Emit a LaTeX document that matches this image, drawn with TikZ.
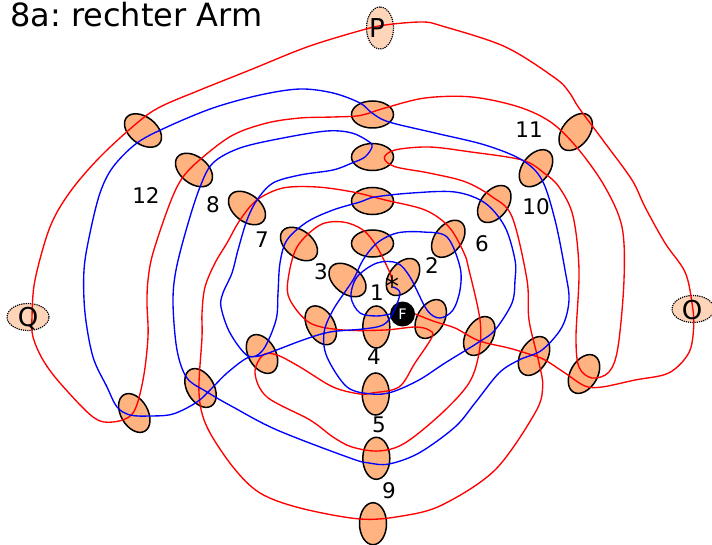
\documentclass[tikz,border=0pt]{standalone}
\usepackage{fontspec}
\setmainfont{DejaVu Sans}
\usetikzlibrary{shapes.geometric}
\definecolor{nervfill}{HTML}{FFB380}
\definecolor{polfill}{HTML}{FFD5BA}
\tikzset{
  nerv/.style={ellipse,draw=black,line width=1.5pt,fill=nervfill,minimum width=42pt,minimum height=27pt,inner sep=0pt},
  pol/.style={ellipse,draw=black,densely dotted,line width=1.2pt,fill=polfill,minimum width=42pt,minimum height=27pt,inner sep=0pt},
  zahl/.style={inner sep=0pt,font=\fontsize{21.5}{24}\selectfont},
  polname/.style={inner sep=0pt,font=\fontsize{26}{30}\selectfont},
  bahn/.style={line width=1.35pt,smooth,tension=0.55}
}
\begin{document}
\frenchspacing
\begin{tikzpicture}[x=1pt,y=-1pt]
\useasboundingbox (0,0) rectangle (712,545);
\node [anchor=base west,inner sep=0pt,font=\fontsize{32}{36}\selectfont] (titel) at (10,27) {8a: rechter Arm};
\node [pol,rotate=90] (polP) at (380,28) {};
\node [pol] (polQ) at (28,317) {};
\node [pol] (polO) at (693,309) {};
\node [nerv] (t1) at (372.5,114.5) {};
\node [nerv] (t2) at (372.5,157) {};
\node [nerv] (t3) at (372.5,201) {};
\node [nerv] (t4) at (372.5,243.5) {};
\node [nerv,rotate=-38] (l1) at (143,130.5) {};
\node [nerv,rotate=-38] (l2) at (194,170) {};
\node [nerv,rotate=-38] (l3) at (247,208) {};
\node [nerv,rotate=-38] (l4) at (299,244) {};
\node [nerv,rotate=-38] (l5) at (347.5,280) {};
\node [nerv,rotate=52] (r1) at (575.7,132) {};
\node [nerv,rotate=52] (r2) at (536,168.2) {};
\node [nerv,rotate=52] (r3) at (494.3,204) {};
\node [nerv,rotate=52] (r4) at (448.3,238.8) {};
\node [nerv,rotate=52] (r5) at (403,277) {};
\node [nerv,rotate=-60] (a1) at (320.8,325.3) {};
\node [nerv,rotate=-60] (a2) at (262,354) {};
\node [nerv,rotate=-60] (a3) at (200.5,388) {};
\node [nerv,rotate=-60] (a4) at (134.3,413) {};
\node [nerv,rotate=60] (b1) at (430.7,319) {};
\node [nerv,rotate=60] (b2) at (479.3,336) {};
\node [nerv,rotate=60] (b3) at (534,356) {};
\node [nerv,rotate=60] (b4) at (584,374) {};
\node [nerv,rotate=90] (u1) at (376.3,327) {};
\node [nerv,rotate=90] (u2) at (375.7,394) {};
\node [nerv,rotate=90] (u3) at (376.3,458.3) {};
\node [nerv,rotate=90] (u4) at (373,523.7) {};
\node [circle,fill=black,minimum size=25pt,inner sep=0pt,text=white,font=\fontsize{14.5}{16}\selectfont] (F) at (402.5,314) {F};
\coordinate (rstern) at (392,281);
\coordinate (bstern) at (393,287);
\draw [red,bahn] plot coordinates {(F.east) (435,321.7) (455,328) (478.7,340.7) (508.7,348) (532,355) (545,360) (565,373) (585,386) (602,387) (635,380) (668.7,373) (688.7,353) (693.7,327) (692,303) (685,272) (665,243) (645,207) (632,180) (605,143) (579,108) (569,92) (555,78) (505,46.7) (442,26) (422,22) (385,25) (360,30.7) (307,47) (250,70) (200,90) (160,107) (137,123) (100,157) (70,192) (50,227) (35,280) (32,317) (33,337) (43,360) (60,383) (93,417) (113,422) (133,413) (143,380) (148,337) (147,303) (148,280) (153,253) (170,203) (183,177) (203,157) (233,135) (267,123) (300,118) (333,117) (360,115.5) (385,108) (425,98) (472,97) (519,107) (552,123) (579,150) (605,187) (622,227) (624,280) (618,347) (609,372) (592,378) (579,367) (576,337) (579,270) (573,216) (559,187) (544,173) (522,160) (469,151.7) (429,147) (395,150) (384.3,158) (395,166.7) (429,173) (465,181.7) (492,196.7) (512,216.7) (527,280) (529,320) (539,363) (542.7,387) (535,413) (495,470) (442,505) (402,516) (360,519) (300,508) (260,493) (233,467) (207,427) (199,393) (202,337) (202,313) (205,287) (215,263) (227,243) (240,220) (257,200) (283,188) (317,187) (353,192) (385,200) (425,210) (449,227) (464,253) (469,270) (480,320) (479,353) (469,383) (442,413) (405,443) (379,451) (352,447) (333,437) (310,420) (267,397) (255,373) (263,355) (277,355) (300,367) (333,387) (360,394) (372,393) (399,387) (415,363) (432,337) (429,330) (415,327) (385,330) (343,330) (310,323) (290,300) (288,280) (297,247) (320,225) (343,222) (363,230) (377,247) (390,273) (rstern)};
\draw [blue,bahn] plot coordinates {(bstern) (400,293) (393,313) (383,325) (363,329) (330,332) (303,340) (263,355) (247,358) (227,373) (213,387) (197,402) (173,414) (150,416) (130,415) (117,407) (107,387) (93,357) (85,313) (84,270) (90,233) (100,193) (113,167) (137,143) (167,127) (213,108) (260,95) (300,89) (333,93) (360,103) (372,113) (389,122) (435,133) (485,145) (522,160) (542,180) (555,220) (565,270) (569,300) (562,327) (542,350) (519,360) (499,373) (475,403) (455,427) (419,453) (389,464) (369,463) (350,458) (277,430) (233,407) (207,392) (187,378) (177,350) (173,303) (176,270) (187,227) (200,187) (213,163) (240,148) (283,138) (327,131) (352,133) (369,141.7) (372,147) (365,157) (352,163) (333,170) (300,175) (273,183) (257,200) (247,220) (238,250) (232,273) (223,293) (221,307) (230,333) (248,356) (263,350) (276,320) (278,293) (280,263) (287,240) (307,222) (333,210) (360,202) (375,197) (412,193) (455,192) (485,203) (505,227) (515,260) (515,280) (512,303) (495,330) (479,342) (445,363) (419,380) (392,392) (372,394) (347,387) (327,357) (324,333) (333,310) (353,280) (363,260) (377,243) (397,233) (423,232) (447,237) (460,267) (460,290) (453,310) (440,318) (427,310) (410,277) (397,263) (377,263) (357,277) (351,297) (360,313) (377,316) (F.west)};
\node [zahl] (n12) at (146,196) {12};
\node [zahl] (n8) at (213,205) {8};
\node [zahl] (n7) at (262,240) {7};
\node [zahl] (n3) at (321,272) {3};
\node [zahl] (n1) at (377,293) {1};
\node [zahl] (n2) at (432,266) {2};
\node [zahl] (n6) at (482,244) {6};
\node [zahl] (n10) at (536,207) {10};
\node [zahl] (n11) at (529,130) {11};
\node [zahl] (n4) at (374,357) {4};
\node [zahl] (n5) at (379,425) {5};
\node [zahl] (n9) at (389,491) {9};
\node [polname] (tP) at (377,28) {P};
\node [polname] (tQ) at (28,319) {Q};
\node [polname] (tO) at (692,310) {O};
\node [inner sep=0pt,font=\fontsize{28}{30}\selectfont] (stern) at (392,286) {*};
\end{tikzpicture}
\end{document}
